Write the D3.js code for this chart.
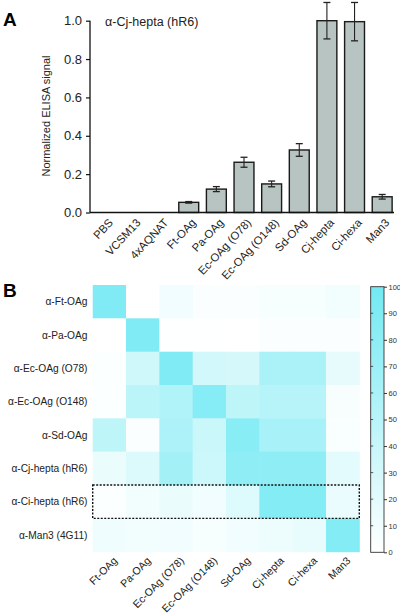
<!DOCTYPE html>
<html>
<head>
<meta charset="utf-8">
<script src="https://cdn.jsdelivr.net/npm/d3@7"></script>
<style>
html,body{margin:0;padding:0;background:#fff;}
svg{display:block;font-family:"Liberation Sans",Arial,sans-serif;}
</style>
</head>
<body>
<svg id="c" width="400" height="614"></svg>
<script>
// ---------- Data ----------
const barCategories = ["PBS","VCSM13","4xAQNAT","Ft-OAg","Pa-OAg","Ec-OAg (O78)","Ec-OAg (O148)","Sd-OAg","Cj-hepta","Ci-hexa","Man3"];
const barValues =     [0, 0, 0, 0.053, 0.122, 0.262, 0.149, 0.326, 1.0, 0.995, 0.082];
const barErrors =     [0, 0, 0, 0.004, 0.013, 0.026, 0.015, 0.033, 0.095, 0.1, 0.012];
const barTicks = [0, 0.2, 0.4, 0.6, 0.8, 1.0];
const barTitle = "α-Cj-hepta (hR6)";
const yLabel = "Normalized ELISA signal";

const heatRows = ["α-Ft-OAg","α-Pa-OAg","α-Ec-OAg (O78)","α-Ec-OAg (O148)","α-Sd-OAg","α-Cj-hepta (hR6)","α-Ci-hepta (hR6)","α-Man3 (4G11)"];
const heatCols = ["Ft-OAg","Pa-OAg","Ec-OAg (O78)","Ec-OAg (O148)","Sd-OAg","Cj-hepta","Ci-hexa","Man3"];
const heatValues = [
  [90, 0, 10, 3, 3, 6, 6, 9],
  [0, 90, 1, 1, 0, 3, 3, 3],
  [2, 34, 90, 32, 30, 60, 60, 17],
  [2, 48, 56, 86, 46, 52, 52, 5],
  [46, 3, 58, 38, 84, 62, 62, 4],
  [14, 25, 65, 36, 80, 80, 80, 20],
  [2, 9, 14, 10, 24, 88, 88, 15],
  [11, 9, 10, 6, 10, 13, 16, 88]
];
const highlightRow = "α-Ci-hepta (hR6)";
const colorbarTicks = [0,10,20,30,40,50,60,70,80,90,100];

// ---------- Drawing ----------
const svg = d3.select("#c");
const font = "'Liberation Sans', Arial, sans-serif";

// Panel labels
svg.append("text").attr("x", 3).attr("y", 26).attr("font-size", 19).attr("font-weight", "bold").text("A");
svg.append("text").attr("x", 3).attr("y", 297).attr("font-size", 19).attr("font-weight", "bold").text("B");

// ----- Panel A -----
const x = d3.scaleBand().domain(barCategories).range([92, 396]).paddingInner(0.28).paddingOuter(0.14);
const y = d3.scaleLinear().domain([0, 1]).range([212.5, 20.7]);

const gA = svg.append("g");
const barData = barCategories.map((c, i) => ({c, v: barValues[i], e: barErrors[i]}));
// bars
gA.selectAll("rect.bar").data(barData.filter(d => d.v > 0))
  .join("rect").attr("class", "bar")
  .attr("x", d => x(d.c)).attr("width", x.bandwidth())
  .attr("y", d => y(d.v)).attr("height", d => y(0) - y(d.v))
  .attr("fill", "#b7c4c1").attr("stroke", "#1a1a1a").attr("stroke-width", 1.4);

// error bars
const eb = gA.selectAll("g.err").data(barData.filter(d => d.e > 0))
  .join("g").attr("class", "err");
eb.append("line")
  .attr("x1", d => x(d.c) + x.bandwidth() / 2).attr("x2", d => x(d.c) + x.bandwidth() / 2)
  .attr("y1", d => y(d.v + d.e)).attr("y2", d => y(d.v - d.e))
  .attr("stroke", "#222").attr("stroke-width", 1.1);
[1, -1].forEach(s => {
  eb.append("line")
    .attr("x1", d => x(d.c) + x.bandwidth() / 2 - 3.5).attr("x2", d => x(d.c) + x.bandwidth() / 2 + 3.5)
    .attr("y1", d => y(d.v + s * d.e)).attr("y2", d => y(d.v + s * d.e))
    .attr("stroke", "#222").attr("stroke-width", 1.3);
});

// y axis
const yAxis = d3.axisLeft(y).tickValues(barTicks).tickFormat(d3.format(".1f")).tickSize(4).tickPadding(4);
const gy = gA.append("g").attr("transform", "translate(90,0)").call(yAxis);
gy.select(".domain").attr("stroke", "#111").attr("stroke-width", 1.3).attr("d", `M0,${y(1)}V${y(0)}`);
gy.selectAll(".tick line").attr("stroke", "#111").attr("stroke-width", 1.2);
gy.selectAll(".tick text").attr("font-family", font).attr("font-size", 13).attr("fill", "#222");

// x baseline
gA.append("line").attr("x1", 90).attr("x2", 394).attr("y1", y(0)).attr("y2", y(0))
  .attr("stroke", "#111").attr("stroke-width", 1.3);

// x labels
gA.selectAll("text.xl").data(barCategories).join("text").attr("class", "xl")
  .attr("transform", d => `translate(${x(d) + x.bandwidth() / 2 + 5},${y(0) + 8}) rotate(-47)`)
  .attr("text-anchor", "end").attr("dy", "0.35em")
  .attr("font-size", 11.3).attr("fill", "#222").text(d => d);

// title
gA.append("text").attr("x", 105).attr("y", 26).attr("font-size", 12.5).attr("fill", "#222").text(barTitle);

// y label
gA.append("text").attr("transform", "translate(50,116) rotate(-90)").attr("text-anchor", "middle")
  .attr("font-size", 11).attr("fill", "#222").text(yLabel);

// ----- Panel B -----
const hx = d3.scaleBand().domain(heatCols).range([92.7, 359.3]);
const hy = d3.scaleBand().domain(heatRows).range([285, 551.7]);
const color = d3.scaleLinear().domain([0, 100]).range(["#ffffff", "#72e9f3"]).interpolate(d3.interpolateRgb);

const cells = [];
heatRows.forEach((r, i) => heatCols.forEach((c, j) => cells.push({r, c, v: heatValues[i][j]})));
svg.append("g").selectAll("rect").data(cells).join("rect")
  .attr("x", d => hx(d.c)).attr("y", d => hy(d.r))
  .attr("width", hx.bandwidth() + 0.5).attr("height", hy.bandwidth() + 0.5)
  .attr("fill", d => color(d.v));

// highlight box
svg.append("rect").attr("x", hx.range()[0]).attr("y", hy(highlightRow))
  .attr("width", hx.range()[1] - hx.range()[0]).attr("height", hy.bandwidth())
  .attr("fill", "none").attr("stroke", "#111").attr("stroke-width", 1.4).attr("stroke-dasharray", "2,1.5");

// row labels
svg.append("g").selectAll("text").data(heatRows).join("text")
  .attr("x", 87.5).attr("y", d => hy(d) + hy.bandwidth() / 2).attr("dy", "0.35em")
  .attr("text-anchor", "end").attr("font-size", 10.2).attr("fill", "#222").text(d => d);

// column labels
svg.append("g").selectAll("text").data(heatCols).join("text")
  .attr("transform", d => `translate(${hx(d) + hx.bandwidth() / 2 + 6},${hy.range()[1] + 7}) rotate(-45)`)
  .attr("text-anchor", "end").attr("dy", "0.35em")
  .attr("font-size", 10.6).attr("fill", "#222").text(d => d);

// colorbar
const cbX = 370.7, cbW = 13.3;
const cy = d3.scaleLinear().domain([0, 100]).range([552.3, 286.7]);
const defs = svg.append("defs");
const grad = defs.append("linearGradient").attr("id", "cbg").attr("x1", 0).attr("x2", 0).attr("y1", 1).attr("y2", 0);
d3.range(0, 101, 10).forEach(v => grad.append("stop").attr("offset", v / 100).attr("stop-color", color(v)));
svg.append("rect").attr("x", cbX).attr("y", cy(100)).attr("width", cbW).attr("height", cy(0) - cy(100))
  .attr("fill", "url(#cbg)").attr("stroke", "#333").attr("stroke-width", 0.9);
const cbAxis = d3.axisRight(cy).tickValues(colorbarTicks).tickSize(3).tickPadding(1.5);
const gcb = svg.append("g").attr("transform", `translate(${cbX + cbW},0)`).call(cbAxis);
gcb.select(".domain").remove();
gcb.selectAll(".tick line").attr("stroke", "#333");
gcb.selectAll(".tick text").attr("font-family", font).attr("font-size", 7.5).attr("fill", "#333");
svg.append("g").selectAll("line").data(colorbarTicks.filter(v => v > 0 && v < 100)).join("line")
  .attr("x1", cbX).attr("x2", cbX + 2.5).attr("y1", d => cy(d)).attr("y2", d => cy(d))
  .attr("stroke", "#333").attr("stroke-width", 0.8);
</script>
</body>
</html>
